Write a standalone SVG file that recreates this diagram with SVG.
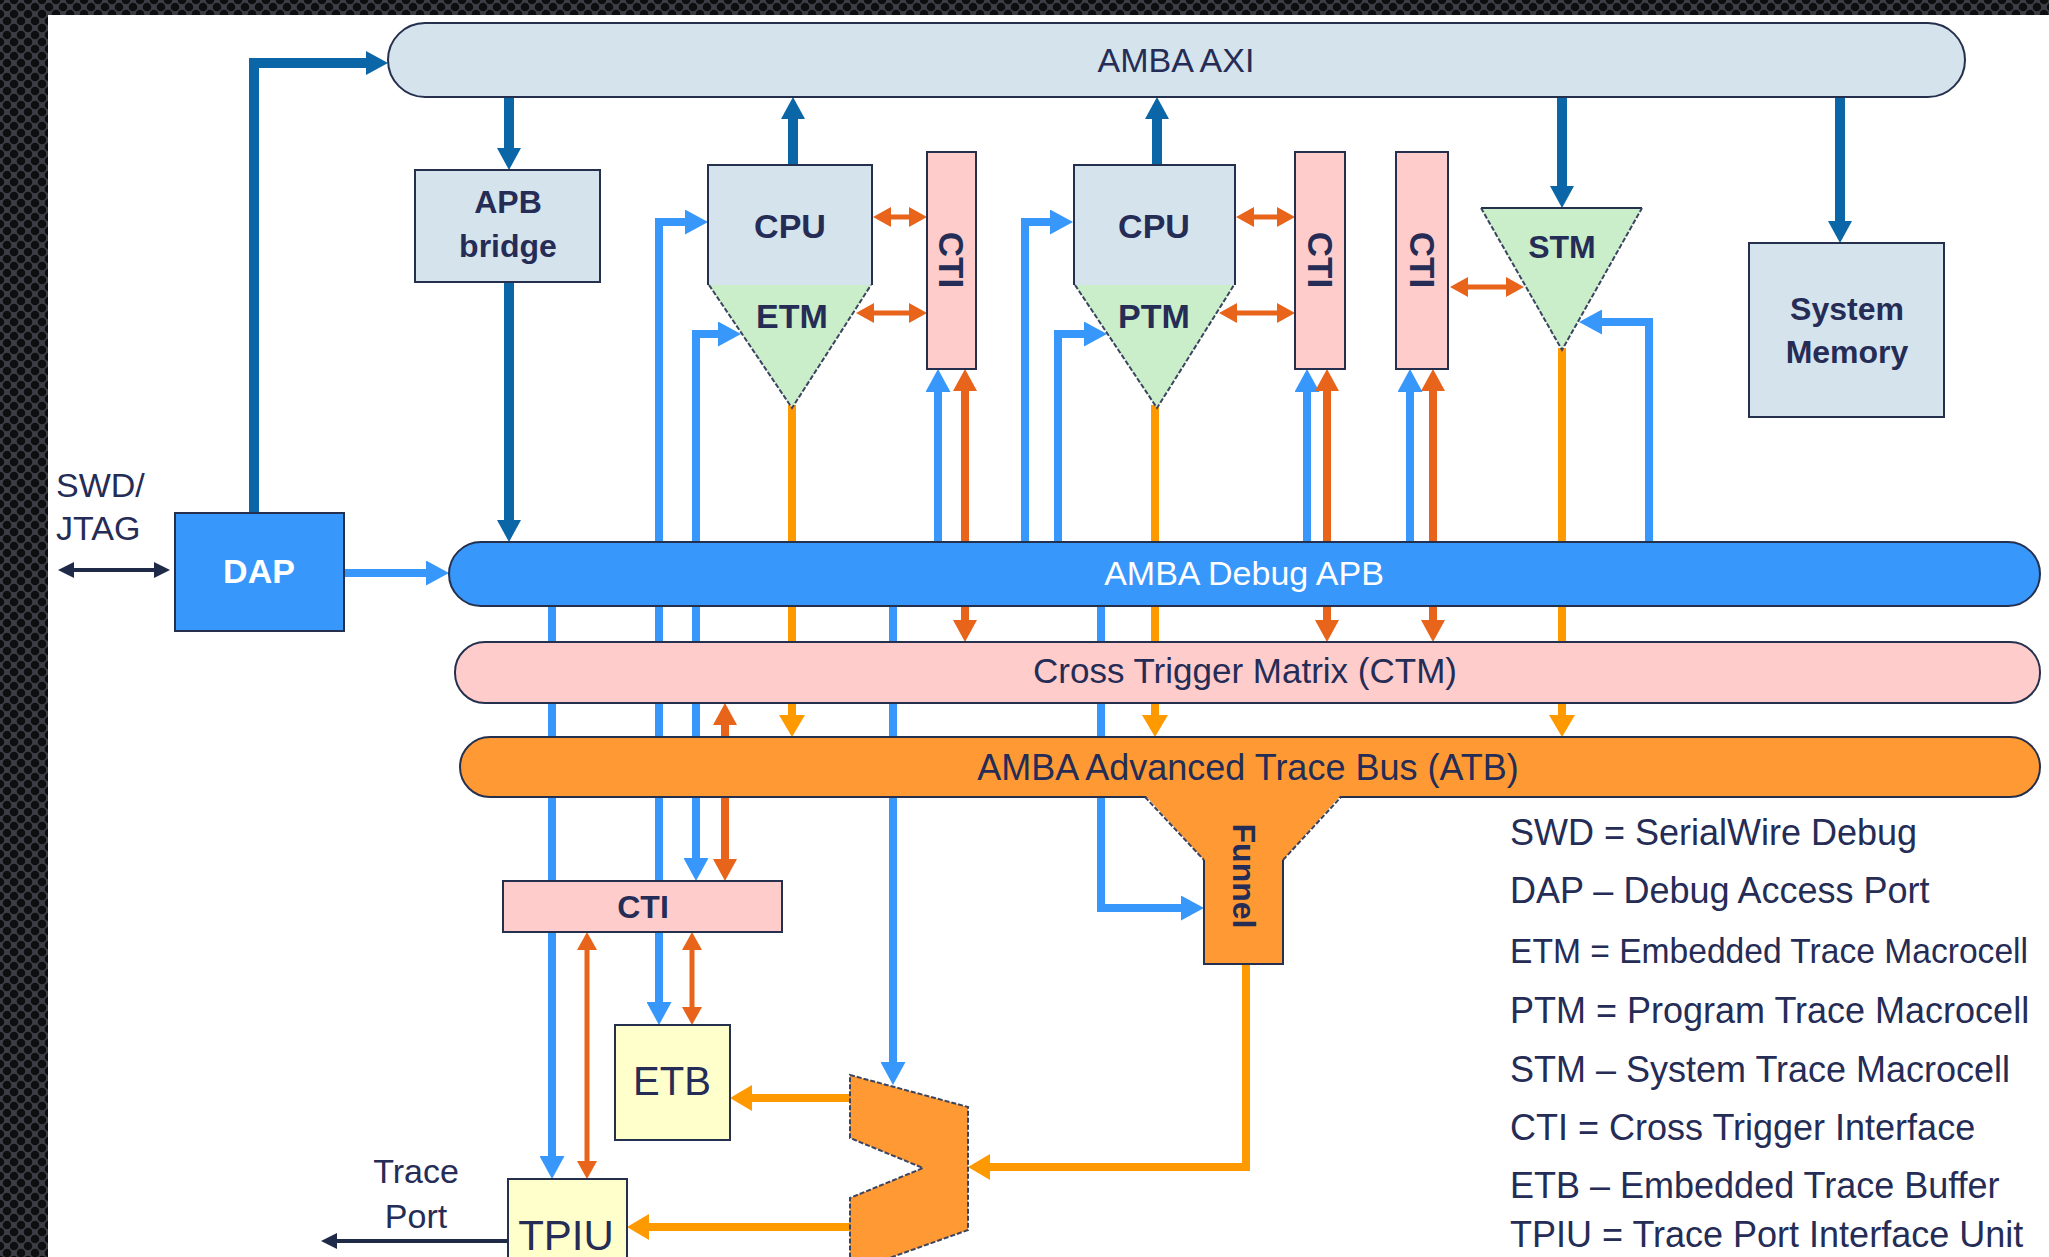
<svg xmlns="http://www.w3.org/2000/svg" width="2049" height="1257" viewBox="0 0 2049 1257">
<style>
  .t { font-family: "Liberation Sans", Arial, sans-serif; fill: #252c55; }
  .b { font-weight: bold; }
  .w { fill: #ffffff; }
  .mid { text-anchor: middle; }
  .edge { stroke: #25304f; stroke-width: 2; }
  .dash { stroke: #3b4560; stroke-width: 2; stroke-dasharray: 5 2; }
  .db { fill: none; stroke: #0a66a6; stroke-width: 10; }
  .lb { fill: none; stroke: #3797fb; stroke-width: 8; }
  .do { fill: none; stroke: #e8641b; stroke-width: 8; }
  .dos { fill: none; stroke: #e8641b; stroke-width: 5; }
  .lo { fill: none; stroke: #ff9900; stroke-width: 8; }
  .nv { fill: none; stroke: #1f2a48; stroke-width: 4; }
</style>
<defs>
  <pattern id="mesh" width="14" height="14" patternUnits="userSpaceOnUse">
    <rect width="14" height="14" fill="#3b3f45"/>
    <circle cx="7" cy="7" r="4.3" fill="#0d0e10"/>
    <circle cx="0" cy="0" r="4.3" fill="#0d0e10"/>
    <circle cx="14" cy="0" r="4.3" fill="#0d0e10"/>
    <circle cx="0" cy="14" r="4.3" fill="#0d0e10"/>
    <circle cx="14" cy="14" r="4.3" fill="#0d0e10"/>
  </pattern>
  <marker id="hDB" markerUnits="userSpaceOnUse" viewBox="0 0 22 24" markerWidth="22" markerHeight="24" refX="1" refY="12" orient="auto-start-reverse"><path d="M0,0 L22,12 L0,24 z" fill="#0a66a6"/></marker>
  <marker id="hLB" markerUnits="userSpaceOnUse" viewBox="0 0 23 25" markerWidth="23" markerHeight="25" refX="1" refY="12.5" orient="auto-start-reverse"><path d="M0,0 L23,12.5 L0,25 z" fill="#3797fb"/></marker>
  <marker id="hDO" markerUnits="userSpaceOnUse" viewBox="0 0 22 24" markerWidth="22" markerHeight="24" refX="1" refY="12" orient="auto-start-reverse"><path d="M0,0 L22,12 L0,24 z" fill="#e8641b"/></marker>
  <marker id="hDOs" markerUnits="userSpaceOnUse" viewBox="0 0 18 20" markerWidth="18" markerHeight="20" refX="1" refY="10" orient="auto-start-reverse"><path d="M0,0 L18,10 L0,20 z" fill="#e8641b"/></marker>
  <marker id="hLO" markerUnits="userSpaceOnUse" viewBox="0 0 22 26" markerWidth="22" markerHeight="26" refX="1" refY="13" orient="auto-start-reverse"><path d="M0,0 L22,13 L0,26 z" fill="#ff9900"/></marker>
  <marker id="hNV" markerUnits="userSpaceOnUse" viewBox="0 0 16 16" markerWidth="16" markerHeight="16" refX="1" refY="8" orient="auto-start-reverse"><path d="M0,0 L16,8 L0,16 z" fill="#1f2a48"/></marker>
</defs>

<rect x="0" y="0" width="2049" height="1257" fill="url(#mesh)"/>
<rect x="48" y="15" width="2001" height="1242" fill="#ffffff"/>

<g id="connectors">
  <!-- dark blue AXI links -->
  <path class="db" d="M254,513 V63 H367" marker-end="url(#hDB)"/>
  <path class="db" d="M509,97 V149" stroke-width="9" marker-end="url(#hDB)"/>
  <path class="db" d="M509,282 V521" stroke-width="9" marker-end="url(#hDB)"/>
  <path class="db" d="M793,165 V118" marker-end="url(#hDB)"/>
  <path class="db" d="M1157,165 V118" marker-end="url(#hDB)"/>
  <path class="db" d="M1562,97 V187" stroke-width="9" marker-end="url(#hDB)"/>
  <path class="db" d="M1840,97 V222" stroke-width="9" marker-end="url(#hDB)"/>

  <!-- light blue debug APB links -->
  <path class="lb" d="M344,573 H427" stroke-width="9" marker-end="url(#hLB)"/>
  <path class="lb" d="M659,574 V222 H686" marker-end="url(#hLB)"/>
  <path class="lb" d="M659,574 V1003" stroke-width="10" marker-end="url(#hLB)"/>
  <path class="lb" d="M696,574 V334 H719" marker-end="url(#hLB)"/>
  <path class="lb" d="M696,574 V859" marker-end="url(#hLB)"/>
  <path class="lb" d="M938,574 V391" marker-end="url(#hLB)"/>
  <path class="lb" d="M1025,574 V222 H1051" marker-end="url(#hLB)"/>
  <path class="lb" d="M1058,574 V334 H1085" marker-end="url(#hLB)"/>
  <path class="lb" d="M1307,574 V391" marker-end="url(#hLB)"/>
  <path class="lb" d="M1410,574 V391" marker-end="url(#hLB)"/>
  <path class="lb" d="M1649,574 V322 H1601" stroke-width="9" marker-end="url(#hLB)"/>
  <path class="lb" d="M552,574 V1157" marker-end="url(#hLB)"/>
  <path class="lb" d="M893,574 V1063" marker-end="url(#hLB)"/>
  <path class="lb" d="M1101,574 V908 H1182" marker-end="url(#hLB)"/>

  <!-- dark orange trigger links -->
  <path class="dos" d="M890,217 H910" marker-start="url(#hDOs)" marker-end="url(#hDOs)"/>
  <path class="dos" d="M873,313 H910" marker-start="url(#hDOs)" marker-end="url(#hDOs)"/>
  <path class="dos" d="M1253,217 H1278" marker-start="url(#hDOs)" marker-end="url(#hDOs)"/>
  <path class="dos" d="M1236,313 H1278" marker-start="url(#hDOs)" marker-end="url(#hDOs)"/>
  <path class="dos" d="M1467,287 H1507" marker-start="url(#hDOs)" marker-end="url(#hDOs)"/>
  <path class="do" d="M965,390 V621" marker-start="url(#hDO)" marker-end="url(#hDO)"/>
  <path class="do" d="M1327,390 V621" marker-start="url(#hDO)" marker-end="url(#hDO)"/>
  <path class="do" d="M1433,390 V621" marker-start="url(#hDO)" marker-end="url(#hDO)"/>
  <path class="do" d="M725,724 V860" stroke-width="7" marker-start="url(#hDO)" marker-end="url(#hDO)"/>
  <path class="dos" d="M587,949 V1162" stroke-width="4" marker-start="url(#hDOs)" marker-end="url(#hDOs)"/>
  <path class="dos" d="M692,949 V1008" stroke-width="4" marker-start="url(#hDOs)" marker-end="url(#hDOs)"/>

  <!-- light orange trace links -->
  <path class="lo" d="M792,405 V716" stroke-width="10" marker-end="url(#hLO)"/>
  <path class="lo" d="M1155,405 V716" stroke-width="7" marker-end="url(#hLO)"/>
  <path class="lo" d="M1562,348 V716" stroke-width="7" marker-end="url(#hLO)"/>
  <path class="lo" d="M1246,962 V1167 H989" marker-end="url(#hLO)"/>
  <path class="lo" d="M852,1098 H751" stroke-width="10" marker-end="url(#hLO)"/>
  <path class="lo" d="M852,1227 H648" stroke-width="10" marker-end="url(#hLO)"/>

  <!-- external ports -->
  <path class="nv" d="M73,570 H155" stroke-width="3" marker-start="url(#hNV)" marker-end="url(#hNV)"/>
  <path class="nv" d="M508,1241 H336" stroke-width="5" marker-end="url(#hNV)"/>
</g>

<g id="amba-axi">
  <rect x="388" y="23" width="1577" height="74" rx="37" fill="#d5e3ed" class="edge"/>
  <text class="t mid" x="1176" y="72" font-size="34">AMBA AXI</text>
</g>

<g id="apb-bridge">
  <rect x="415" y="170" width="185" height="112" fill="#d5e3ed" class="edge"/>
  <text class="t b mid" x="508" y="213" font-size="32">APB</text>
  <text class="t b mid" x="508" y="257" font-size="32">bridge</text>
</g>

<g id="cpu-etm">
  <rect x="708" y="165" width="164" height="120" fill="#d5e3ed"/>
  <path d="M708,285 V165 H872 V285" fill="none" class="edge"/>
  <polygon points="709,285 871,285 792,408" fill="#c9eec9"/>
  <path d="M709,285 L792,408 L871,285" fill="none" class="dash"/>
  <text class="t b mid" x="790" y="238" font-size="34">CPU</text>
  <text class="t b mid" x="792" y="328" font-size="34">ETM</text>
</g>

<g id="cti-1">
  <rect x="927" y="152" width="49" height="217" fill="#ffcccc" class="edge"/>
  <text class="t b mid" font-size="35" transform="translate(951,260) rotate(90)" y="12">CTI</text>
</g>

<g id="cpu-ptm">
  <rect x="1074" y="165" width="161" height="120" fill="#d5e3ed"/>
  <path d="M1074,285 V165 H1235 V285" fill="none" class="edge"/>
  <polygon points="1075,285 1234,285 1157,408" fill="#c9eec9"/>
  <path d="M1075,285 L1157,408 L1234,285" fill="none" class="dash"/>
  <text class="t b mid" x="1154" y="238" font-size="34">CPU</text>
  <text class="t b mid" x="1154" y="328" font-size="34">PTM</text>
</g>

<g id="cti-2">
  <rect x="1295" y="152" width="50" height="217" fill="#ffcccc" class="edge"/>
  <text class="t b mid" font-size="35" transform="translate(1320,260) rotate(90)" y="12">CTI</text>
</g>

<g id="cti-3">
  <rect x="1396" y="152" width="52" height="217" fill="#ffcccc" class="edge"/>
  <text class="t b mid" font-size="35" transform="translate(1422,260) rotate(90)" y="12">CTI</text>
</g>

<g id="stm">
  <polygon points="1481,208 1642,208 1562,350" fill="#c9eec9"/>
  <path d="M1481,208 H1642" class="edge"/>
  <path d="M1481,208 L1562,350 L1642,208" fill="none" class="dash"/>
  <text class="t b mid" x="1562" y="258" font-size="32">STM</text>
</g>

<g id="system-memory">
  <rect x="1749" y="243" width="195" height="174" fill="#d5e3ed" class="edge"/>
  <text class="t b mid" x="1847" y="320" font-size="32">System</text>
  <text class="t b mid" x="1847" y="363" font-size="32">Memory</text>
</g>

<g id="swd-jtag">
  <text class="t" x="56" y="497" font-size="34">SWD/</text>
  <text class="t" x="56" y="540" font-size="34">JTAG</text>
</g>

<g id="dap">
  <rect x="175" y="513" width="169" height="118" fill="#3797fb" class="edge"/>
  <text class="t b w mid" x="259" y="583" font-size="34">DAP</text>
</g>

<g id="amba-debug-apb">
  <rect x="449" y="542" width="1591" height="64" rx="32" fill="#3797fb" class="edge"/>
  <text class="t w mid" x="1244" y="585" font-size="34">AMBA Debug APB</text>
</g>

<g id="ctm">
  <rect x="455" y="642" width="1585" height="61" rx="30" fill="#ffcccc" class="edge"/>
  <text class="t mid" x="1245" y="683" font-size="35">Cross Trigger Matrix (CTM)</text>
</g>

<g id="atb">
  <rect x="460" y="737" width="1580" height="60" rx="30" fill="#ff9933" class="edge"/>
  <text class="t mid" x="1248" y="780" font-size="36">AMBA Advanced Trace Bus (ATB)</text>
</g>

<g id="funnel">
  <polygon points="1145,795 1341,795 1283,860 1283,964 1204,964 1204,860" fill="#ff9933"/>
  <path d="M1145,797 L1204,860 M1283,860 L1341,797" fill="none" class="dash"/>
  <path d="M1204,860 V964 H1283 V860" fill="none" class="edge"/>
  <text class="t b mid" font-size="32" transform="translate(1244,876) rotate(90)" y="11">Funnel</text>
</g>

<g id="cti-bottom">
  <rect x="503" y="881" width="279" height="51" fill="#ffcccc" class="edge"/>
  <text class="t b mid" x="643" y="918" font-size="32">CTI</text>
</g>

<g id="etb">
  <rect x="615" y="1025" width="115" height="115" fill="#ffffcc" class="edge"/>
  <text class="t mid" x="672" y="1095" font-size="40">ETB</text>
</g>

<g id="mux">
  <polygon points="850,1075 968,1107 968,1230 850,1272 850,1198 923,1168 850,1138" fill="#ff9933" class="dash"/>
</g>

<g id="tpiu">
  <rect x="508" y="1179" width="119" height="90" fill="#ffffcc" class="edge"/>
  <text class="t mid" x="566" y="1250" font-size="42">TPIU</text>
</g>

<g id="trace-port">
  <text class="t mid" x="416" y="1183" font-size="34">Trace</text>
  <text class="t mid" x="416" y="1228" font-size="34">Port</text>
</g>

<g id="legend">
  <text class="t" x="1510" y="845" font-size="36">SWD = SerialWire Debug</text>
  <text class="t" x="1510" y="903" font-size="36">DAP – Debug Access Port</text>
  <text class="t" x="1510" y="963" font-size="35" textLength="518" lengthAdjust="spacingAndGlyphs">ETM = Embedded Trace Macrocell</text>
  <text class="t" x="1510" y="1023" font-size="36">PTM = Program Trace Macrocell</text>
  <text class="t" x="1510" y="1082" font-size="36">STM – System Trace Macrocell</text>
  <text class="t" x="1510" y="1140" font-size="36">CTI = Cross Trigger Interface</text>
  <text class="t" x="1510" y="1198" font-size="36">ETB – Embedded Trace Buffer</text>
  <text class="t" x="1510" y="1247" font-size="36">TPIU = Trace Port Interface Unit</text>
</g>
</svg>
